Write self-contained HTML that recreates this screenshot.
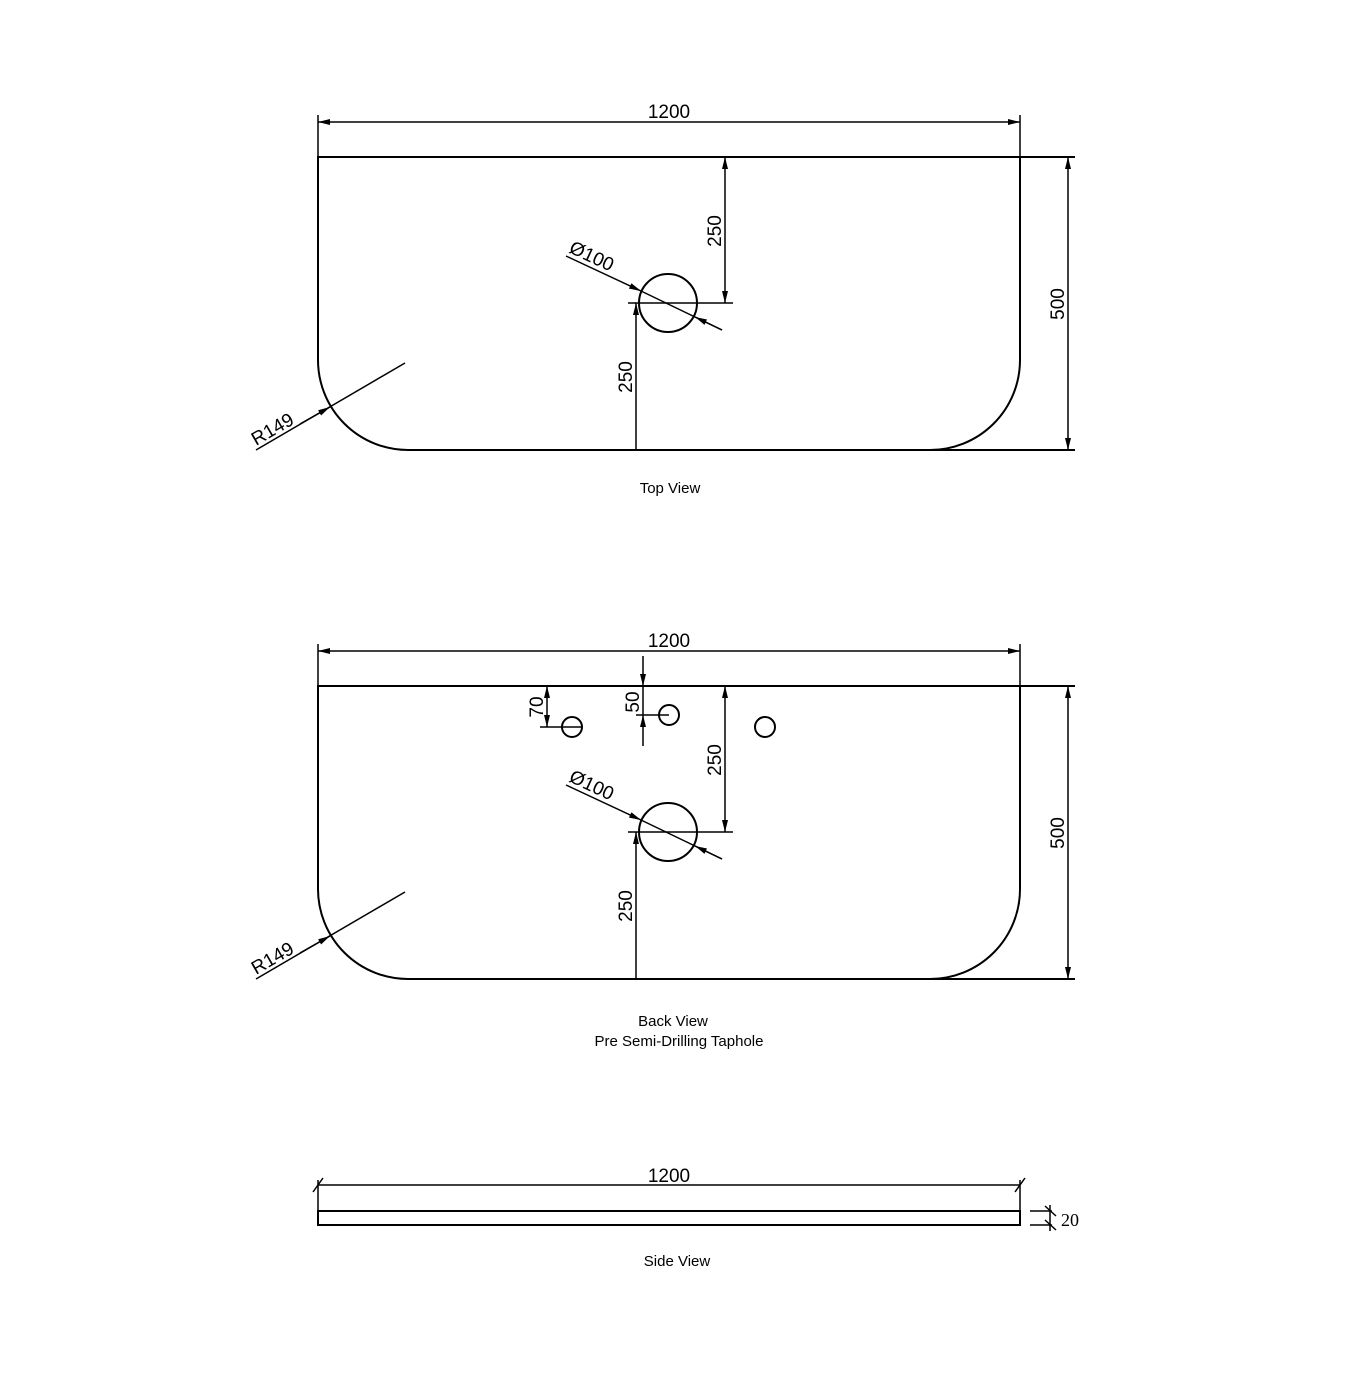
<!DOCTYPE html>
<html><head><style>body{margin:0;background:#fff}svg{display:block}</style></head><body>
<svg width="1352" height="1400" viewBox="0 0 1352 1400" xmlns="http://www.w3.org/2000/svg" font-family="Liberation Sans, sans-serif">
<defs>
<marker id="a" viewBox="0 0 12 6" refX="12" refY="3" markerWidth="12" markerHeight="6" orient="auto" markerUnits="userSpaceOnUse"><path d="M0,0 L12,3 L0,6 Z" fill="#000"/></marker>
</defs>
<g id="v" stroke="#000" stroke-width="2" fill="none">
<path d="M1075,157 H318 V360 A90,90 0 0 0 408,450 H1075"/>
<path d="M1020,157 V360 A90,90 0 0 1 930,450"/>
<line x1="318" y1="115" x2="318" y2="157" stroke-width="1.5"/>
<line x1="1020" y1="115" x2="1020" y2="157" stroke-width="1.5"/>
<line x1="669" y1="122" x2="1020" y2="122" stroke-width="1.5" marker-end="url(#a)"/>
<line x1="669" y1="122" x2="318" y2="122" stroke-width="1.5" marker-end="url(#a)"/>
<line x1="1068" y1="300" x2="1068" y2="157" stroke-width="1.5" marker-end="url(#a)"/>
<line x1="1068" y1="300" x2="1068" y2="450" stroke-width="1.5" marker-end="url(#a)"/>
<circle cx="668" cy="303" r="29"/>
<line x1="628" y1="303" x2="733" y2="303" stroke-width="1.5"/>
<line x1="725" y1="230" x2="725" y2="157" stroke-width="1.5" marker-end="url(#a)"/>
<line x1="725" y1="230" x2="725" y2="303" stroke-width="1.5" marker-end="url(#a)"/>
<line x1="636" y1="450" x2="636" y2="303" stroke-width="1.5" marker-end="url(#a)"/>
<line x1="566" y1="256" x2="641" y2="291" stroke-width="1.5" marker-end="url(#a)"/>
<line x1="641" y1="291" x2="722" y2="330" stroke-width="1.5"/>
<line x1="722" y1="330" x2="695" y2="317" stroke-width="1.5" marker-end="url(#a)"/>
<line x1="256" y1="450" x2="405" y2="363" stroke-width="1.5"/>
<line x1="300" y1="424" x2="330" y2="407" stroke-width="1.5" marker-end="url(#a)"/>
</g>
<g font-size="19" fill="#000">
<text x="669" y="118" text-anchor="middle">1200</text>
<text transform="translate(1064,304) rotate(-90)" text-anchor="middle">500</text>
<text transform="translate(721,231) rotate(-90)" text-anchor="middle">250</text>
<text transform="translate(632,377) rotate(-90)" text-anchor="middle">250</text>
<text transform="translate(568,252) rotate(25)">Ø100</text>
<text transform="translate(256,446) rotate(-30)">R149</text>
</g>
<text x="670" y="493" font-size="15" text-anchor="middle">Top View</text>

<use href="#v" transform="translate(0,529)"/>
<g font-size="19" fill="#000">
<text x="669" y="647" text-anchor="middle">1200</text>
<text transform="translate(1064,833) rotate(-90)" text-anchor="middle">500</text>
<text transform="translate(721,760) rotate(-90)" text-anchor="middle">250</text>
<text transform="translate(632,906) rotate(-90)" text-anchor="middle">250</text>
<text transform="translate(568,781) rotate(25)">Ø100</text>
<text transform="translate(256,975) rotate(-30)">R149</text>
<text transform="translate(543,707) rotate(-90)" text-anchor="middle">70</text>
<text transform="translate(639,702) rotate(-90)" text-anchor="middle">50</text>
</g>
<g stroke="#000" stroke-width="2" fill="none">
<circle cx="572" cy="727" r="10"/><circle cx="669" cy="715" r="10"/><circle cx="765" cy="727" r="10"/>
<line x1="540" y1="727" x2="582" y2="727" stroke-width="1.5"/>
<line x1="547" y1="706" x2="547" y2="686" stroke-width="1.5" marker-end="url(#a)"/>
<line x1="547" y1="706" x2="547" y2="727" stroke-width="1.5" marker-end="url(#a)"/>
<line x1="636" y1="715" x2="669" y2="715" stroke-width="1.5"/>
<line x1="643" y1="656" x2="643" y2="686" stroke-width="1.5" marker-end="url(#a)"/>
<line x1="643" y1="746" x2="643" y2="715" stroke-width="1.5" marker-end="url(#a)"/>
<line x1="643" y1="686" x2="643" y2="715" stroke-width="1.5"/>
</g>
<text x="673" y="1026" font-size="15" text-anchor="middle">Back View</text>
<text x="679" y="1046" font-size="15" text-anchor="middle">Pre Semi-Drilling Taphole</text>

<g stroke="#000" stroke-width="2" fill="none">
<rect x="318" y="1211" width="702" height="14"/>
<line x1="318" y1="1180" x2="318" y2="1211" stroke-width="1.5"/>
<line x1="1020" y1="1180" x2="1020" y2="1211" stroke-width="1.5"/>
<line x1="318" y1="1185" x2="1020" y2="1185" stroke-width="1.5"/>
<line x1="313" y1="1192" x2="323" y2="1178" stroke-width="1.5"/>
<line x1="1015" y1="1192" x2="1025" y2="1178" stroke-width="1.5"/>
<line x1="1030" y1="1211" x2="1052" y2="1211" stroke-width="1.5"/>
<line x1="1030" y1="1225" x2="1052" y2="1225" stroke-width="1.5"/>
<line x1="1050" y1="1205" x2="1050" y2="1231" stroke-width="1.5"/>
<line x1="1045" y1="1206" x2="1056" y2="1216" stroke-width="1.5"/>
<line x1="1045" y1="1220" x2="1056" y2="1230" stroke-width="1.5"/>
</g>
<text x="669" y="1182" font-size="19" text-anchor="middle">1200</text>
<text x="1061" y="1226" font-size="18" font-family="Liberation Serif, serif">20</text>
<text x="677" y="1266" font-size="15" text-anchor="middle">Side View</text>
</svg>
</body></html>
